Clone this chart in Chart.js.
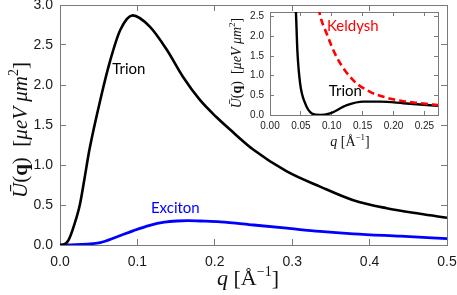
<!DOCTYPE html>
<html>
<head>
<meta charset="utf-8">
<script src="https://cdn.jsdelivr.net/npm/chart.js@4.4.0/dist/chart.umd.min.js"></script>
<style>
html, body { margin: 0; padding: 0; background: #fff; }
#wrap { position: relative; width: 457px; height: 295px; }
#wrap canvas { position: absolute; left: 0; top: 0; }
</style>
</head>
<body>
<div id="wrap">
  <canvas id="mainChart" width="457" height="295"></canvas>
  <canvas id="insetChart" width="457" height="295"></canvas>
</div>
<script>
// main panel: trion and exciton
const trionQ = [0, 0.005, 0.011, 0.019, 0.026, 0.032, 0.038, 0.052, 0.065, 0.078, 0.094, 0.116, 0.138, 0.159, 0.181, 0.202, 0.22, 0.25, 0.293, 0.336, 0.379, 0.422, 0.465, 0.5];
const trionU = [0, 0.005, 0.06, 0.27, 0.52, 0.85, 1.19, 1.81, 2.31, 2.69, 2.87, 2.73, 2.44, 2.10, 1.81, 1.60, 1.44, 1.19, 0.92, 0.73, 0.56, 0.46, 0.39, 0.34];
const excitonQ = [0, 0.02, 0.035, 0.052, 0.073, 0.095, 0.116, 0.135, 0.151, 0.165, 0.181, 0.207, 0.25, 0.293, 0.336, 0.379, 0.44, 0.5];
const excitonU = [0, 0.004, 0.012, 0.03, 0.10, 0.18, 0.246, 0.285, 0.30, 0.305, 0.30, 0.29, 0.25, 0.21, 0.17, 0.14, 0.11, 0.08];

// inset: trion vs keldysh
const insetTrionQ = [0.039, 0.042, 0.0443, 0.0487, 0.0568, 0.0677, 0.081, 0.097, 0.1245, 0.151, 0.179, 0.216, 0.273];
const insetTrionU = [3.4, 2.61, 1.64, 0.81, 0.30, 0.04, 0.0, 0.04, 0.25, 0.34, 0.34, 0.30, 0.23];
const keldyshQ = [0.076, 0.080, 0.092, 0.108, 0.135, 0.162, 0.189, 0.216, 0.243, 0.273];
const keldyshU = [3.0, 2.61, 2.06, 1.47, 0.88, 0.59, 0.44, 0.35, 0.30, 0.25];

const mainXTicks = [0, 0.1, 0.2, 0.3, 0.4, 0.5];
const mainYTicks = [0, 0.5, 1.0, 1.5, 2.0, 2.5, 3.0];
const insetXTicks = [0, 0.05, 0.10, 0.15, 0.20, 0.25];
const insetYTicks = [0, 0.5, 1.0, 1.5, 2.0, 2.5];

const zip = (xs, ys) => xs.map((x, i) => ({x: x, y: ys[i]}));

// curve labels placed in data coordinates
const notesPlugin = {
  id: 'notes',
  afterDatasetsDraw(chart, args, o) {
    const {ctx, scales: {x, y}} = chart;
    ctx.save();
    ctx.textAlign = 'center';
    ctx.textBaseline = 'middle';
    (o.items || []).forEach(it => {
      ctx.font = it.font;
      ctx.fillStyle = it.color;
      ctx.fillText(it.text, x.getPixelForValue(it.x), y.getPixelForValue(it.y));
    });
    ctx.restore();
  }
};

// axis titles with mixed styles (italic, bold, superscript)
const titlesPlugin = {
  id: 'richTitles',
  afterDraw(chart, args, o) {
    const ctx = chart.ctx;
    (o.titles || []).forEach(tt => {
      ctx.save();
      ctx.translate(tt.x, tt.y);
      if (tt.rot) ctx.rotate(tt.rot);
      ctx.fillStyle = '#111';
      ctx.textBaseline = 'alphabetic';
      let total = 0;
      const w = tt.segs.map(s => { ctx.font = s.f; const m = ctx.measureText(s.t).width; total += m; return m; });
      let cx = -total / 2;
      tt.segs.forEach((s, i) => {
        ctx.font = s.f;
        ctx.fillText(s.t, cx, tt.base + (s.dy || 0));
        cx += w[i];
      });
      ctx.restore();
    });
  }
};

function uSegs(px) {
  const it = 'italic ' + px + 'px "Liberation Serif"';
  const up = px + 'px "Liberation Serif"';
  const bd = 'bold ' + px + 'px "Liberation Serif"';
  const sm = Math.round(px * 0.65) + 'px "Liberation Serif"';
  return [
    {t: '\u016A', f: it}, {t: '(', f: up}, {t: 'q', f: bd}, {t: ')  [', f: up},
    {t: '\u03BCeV \u03BCm', f: it}, {t: '2', f: sm, dy: -px * 0.42}, {t: ']', f: up}
  ];
}
function qSegs(px) {
  const it = 'italic ' + px + 'px "Liberation Serif"';
  const up = px + 'px "Liberation Serif"';
  const sm = Math.round(px * 0.65) + 'px "Liberation Serif"';
  return [
    {t: 'q', f: it}, {t: ' [\u00C5', f: up}, {t: '\u2212', f: sm, dy: -px * 0.42},
    {t: '1', f: sm, dy: -px * 0.42}, {t: ']', f: up}
  ];
}

const tickFont = (s) => ({family: '"Liberation Sans", Arial, sans-serif', size: s});
const label = 'Lato, "Liberation Sans", sans-serif';
const frameColor = '#7a7a7a';

// one side of the frame; negative tickLength puts the tick marks inside the plot
function axisOpts(axis, pos, min, max, ticks, digits, size, pad, tick, fit, showLabels) {
  return {
    type: 'linear', axis: axis, position: pos, min: min, max: max,
    grid: {display: true, drawOnChartArea: false, drawTicks: true, tickLength: -tick,
      color: frameColor, lineWidth: 1},
    border: {display: true, color: frameColor, width: 1},
    afterBuildTicks: (sc) => { sc.ticks = ticks.map(v => ({value: v})); },
    ticks: {display: showLabels, color: '#1a1a1a', font: tickFont(size), padding: pad + tick,
      maxRotation: 0, autoSkip: false, callback: (v) => Number(v).toFixed(digits)},
    afterFit: (s) => {
      fit(s);
      s.paddingTop = 0; s.paddingBottom = 0; s.paddingLeft = 0; s.paddingRight = 0;
    }
  };
}

new Chart(document.getElementById('mainChart'), {
  type: 'line',
  data: {
    datasets: [
      {data: zip(trionQ, trionU), borderColor: '#000', borderWidth: 2.6, pointRadius: 0,
        cubicInterpolationMode: 'monotone', fill: false},
      {data: zip(excitonQ, excitonU), borderColor: '#0000ff', borderWidth: 2.8, pointRadius: 0,
        cubicInterpolationMode: 'monotone', fill: false}
    ]
  },
  options: {
    responsive: false,
    animation: false,
    layout: {padding: {top: 5, right: 10, left: 0, bottom: 0}},
    plugins: {
      legend: {display: false},
      tooltip: {enabled: false},
      notes: {items: [
        {text: 'Trion', x: 0.089, y: 2.2, color: '#000', font: '15px ' + label},
        {text: 'Exciton', x: 0.149, y: 0.465, color: '#0000ff', font: '15px ' + label}
      ]},
      richTitles: {titles: [
        {segs: uSegs(21), x: 20, y: 130, rot: -Math.PI / 2, base: 7},
        {segs: qSegs(22), x: 248, y: 278, base: 7}
      ]}
    },
    scales: {
      x: axisOpts('x', 'bottom', 0, 0.5, mainXTicks, 1, 14, 9, 6, (s) => { s.height = 50; }, true),
      y: axisOpts('y', 'left', 0, 3, mainYTicks, 1, 14, 7, 6, (s) => { s.width = 60; }, true),
      x2: axisOpts('x', 'top', 0, 0.5, mainXTicks, 1, 14, 0, 6, (s) => { s.height = 0; }, false),
      y2: axisOpts('y', 'right', 0, 3, mainYTicks, 1, 14, 0, 6, (s) => { s.width = 0; }, false)
    }
  },
  plugins: [notesPlugin, titlesPlugin]
});

new Chart(document.getElementById('insetChart'), {
  type: 'line',
  data: {
    datasets: [
      {data: zip(keldyshQ, keldyshU), borderColor: '#ff0000', borderWidth: 2.6, borderDash: [7, 4],
        pointRadius: 0, cubicInterpolationMode: 'monotone', fill: false},
      {data: zip(insetTrionQ, insetTrionU), borderColor: '#000', borderWidth: 2.4, pointRadius: 0,
        cubicInterpolationMode: 'monotone', fill: false}
    ]
  },
  options: {
    responsive: false,
    animation: false,
    layout: {padding: {top: 12, right: 19, left: 240, bottom: 162}},
    plugins: {
      legend: {display: false},
      tooltip: {enabled: false},
      notes: {items: [
        {text: 'Trion', x: 0.122, y: 0.6, color: '#000', font: '15px ' + label},
        {text: 'Keldysh', x: 0.134, y: 2.27, color: '#ff0000', font: '15px ' + label}
      ]},
      richTitles: {titles: [
        {segs: uSegs(14), x: 236, y: 63, rot: -Math.PI / 2, base: 5},
        {segs: qSegs(14), x: 350, y: 141, base: 5}
      ]}
    },
    scales: {
      x: axisOpts('x', 'bottom', 0, 0.272, insetXTicks, 2, 10, 5, 4, (s) => { s.height = 18; }, true),
      y: axisOpts('y', 'left', 0, 2.62, insetYTicks, 1, 10, 6, 4, (s) => { s.width = 30; }, true),
      x2: axisOpts('x', 'top', 0, 0.272, insetXTicks, 2, 10, 0, 4, (s) => { s.height = 0; }, false),
      y2: axisOpts('y', 'right', 0, 2.62, insetYTicks, 1, 10, 0, 4, (s) => { s.width = 0; }, false)
    }
  },
  plugins: [notesPlugin, titlesPlugin]
});
</script>
</body>
</html>
